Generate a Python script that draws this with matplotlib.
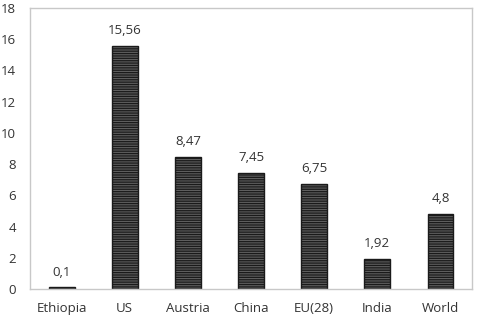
import matplotlib
matplotlib.use("Agg")
import matplotlib.pyplot as plt

categories = ["Ethiopia", "US", "Austria", "China", "EU(28)", "India", "World"]
values = [0.1, 15.56, 8.47, 7.45, 6.75, 1.92, 4.8]
labels = ["0,1", "15,56", "8,47", "7,45", "6,75", "1,92", "4,8"]
yticks = [0, 2, 4, 6, 8, 10, 12, 14, 16, 18]

plt.rcParams['font.family'] = ['Open Sans', 'DejaVu Sans']
plt.rcParams['hatch.color'] = '#e6e6e6'
plt.rcParams['hatch.linewidth'] = 0.9

fig = plt.figure(figsize=(4.8, 3.19), dpi=100)
ax = fig.add_axes([0.0625, 0.094, 0.921, 0.881])
x = range(len(categories))
bars = ax.bar(x, values, width=0.41, color='#5e5e5e', edgecolor='#1a1a1a',
              linewidth=1.0, hatch='-------')
for xi, v, lab in zip(x, values, labels):
    ax.text(xi, v + 0.55, lab, ha='center', va='bottom', fontsize=9.5, color='#333333')

ax.set_xlim(-0.5, len(categories) - 0.5)
ax.set_ylim(0, 18)
ax.set_yticks(yticks)
ax.set_xticks(list(x))
ax.set_xticklabels(categories)
ax.tick_params(axis='both', length=0, labelsize=9.5, colors='#333333')
ax.tick_params(axis='y', pad=10)
ax.tick_params(axis='x', pad=9)
for s in ax.spines.values():
    s.set_color('#c8c8c8')
    s.set_linewidth(1.0)
fig.savefig("out.png", dpi=100)
